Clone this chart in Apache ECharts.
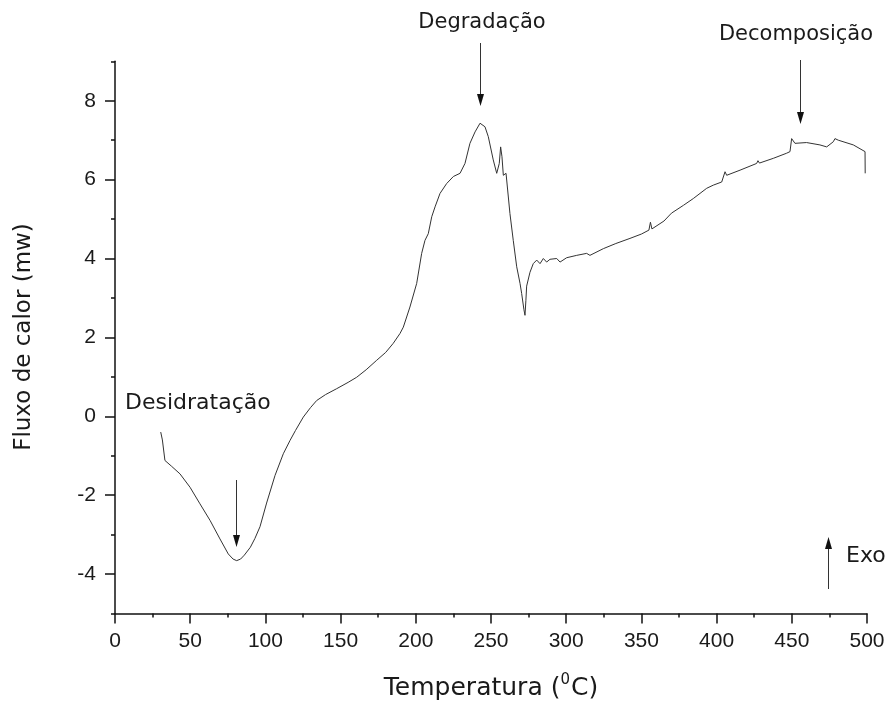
<!DOCTYPE html>
<html>
<head>
<meta charset="utf-8">
<script src="https://cdn.jsdelivr.net/npm/echarts@6/dist/echarts.min.js"></script>
<style>
html,body{margin:0;padding:0;background:#fff;}
#chart{width:893px;height:705px;}
</style>
</head>
<body>
<div id="chart"></div>
<script>
// Temperature (°C)
var temps = [30.4,31.5,33.2,37.7,43.2,49.9,56.5,63.2,69.8,75.3,78.5,80.9,83.5,86,90,93,96.4,100.8,106.4,111.9,116.4,120,125.2,130,134.1,140,147.4,155,160.7,167,174,180,185,189.5,191.7,196.1,200.6,203.9,206.1,208.3,210.6,212.8,216.1,220.5,225,229.4,232.7,236,239.4,242.7,246,248.2,251.5,253.8,255.5,256.4,257.3,258.2,260,262.6,264.8,267.1,269.3,270.4,271.9,272.6,273.2,273.7,275.9,278.1,280.4,282.6,284.8,287,289.2,293.7,295.9,300.3,307,313.6,315.8,324.7,333,342.4,350,355,356,357,365,370,378,384.5,393.4,397.8,403.4,405.6,406.7,415.6,426.6,427.5,428.5,437.7,446.6,448.8,449.9,452.1,459.8,468.7,473.2,477.6,478.7,480.9,490.9,498.7,498.8];
// Heat flow (mW)
var flux = [-0.40,-0.60,-1.12,-1.27,-1.46,-1.80,-2.22,-2.64,-3.11,-3.49,-3.62,-3.66,-3.62,-3.52,-3.32,-3.10,-2.80,-2.20,-1.50,-0.95,-0.61,-0.36,-0.02,0.22,0.40,0.55,0.70,0.86,0.99,1.18,1.42,1.62,1.85,2.10,2.26,2.77,3.37,4.13,4.46,4.63,5.06,5.31,5.65,5.90,6.08,6.16,6.41,6.92,7.21,7.43,7.34,7.09,6.50,6.16,6.41,6.83,6.58,6.11,6.16,5.14,4.46,3.79,3.37,3.11,2.70,2.56,2.94,3.30,3.65,3.87,3.96,3.87,4.00,3.91,3.98,4.00,3.91,4.02,4.08,4.13,4.08,4.25,4.38,4.51,4.62,4.72,4.92,4.75,4.95,5.15,5.35,5.52,5.78,5.86,5.94,6.20,6.11,6.24,6.41,6.48,6.42,6.54,6.67,6.71,7.04,6.92,6.94,6.88,6.83,6.96,7.04,7.00,6.88,6.71,6.16];
var yMajorTicks = [-4,-2,0,2,4,6,8];
var yMinorTicks = [-5,-3,-1,1,3,5,7,9];
var annotations = ['Desidratação','Degradação','Decomposição','Exo'];

var FONT = 'DejaVu Sans';
var TICKFONT = 'Liberation Sans';
var INK = '#1a1a1a';

var data = temps.map(function(t,i){ return [t, flux[i]]; });

var chart = echarts.init(document.getElementById('chart'), null, {renderer:'canvas'});

function arrow(x, y1, y2, up) {
  var head = 12, hw = 3.5;
  var tip = y2;
  var base = up ? tip + head : tip - head;
  return [
    {type:'line', shape:{x1:x, y1:y1, x2:x, y2:base}, style:{stroke:'#333', lineWidth:1}},
    {type:'polygon', shape:{points:[[x-hw, base],[x+hw, base],[x, tip]]}, style:{fill:'#111'}}
  ];
}

// x-axis title with superscript zero, built from pieces
var ctx = document.createElement('canvas').getContext('2d');
function tw(txt, size){ ctx.font = size + 'px "' + FONT + '"'; return ctx.measureText(txt).width; }
var tA = 'Temperatura (', tS = '0', tC = 'C)';
var mainSize = 25, supSize = 15;
var wA = tw(tA, mainSize), wS = tw(tS, supSize), wC = tw(tC, mainSize);
var x0 = 491 - (wA + wS + 1 + wC) / 2;

var graphics = [].concat(
  arrow(236.5, 480, 547, false),
  arrow(480.5, 43, 106, false),
  arrow(800.5, 60, 124, false),
  arrow(828.5, 589, 537, true),
  [
    {type:'text', left:125, top:392, style:{text:annotations[0], font:'22px "'+FONT+'"', fill:INK}},
    {type:'text', x:482, y:23, style:{text:annotations[1], font:'21px "'+FONT+'"', fill:INK, textAlign:'center', textVerticalAlign:'middle'}},
    {type:'text', x:796, y:35, style:{text:annotations[2], font:'21px "'+FONT+'"', fill:INK, textAlign:'center', textVerticalAlign:'middle'}},
    {type:'text', x:846, y:556, style:{text:annotations[3], font:'22px "'+FONT+'"', fill:INK, textAlign:'left', textVerticalAlign:'middle'}},
    {type:'text', x:24, y:337, rotation:Math.PI/2, style:{text:'Fluxo de calor (mw)', font:'23px "'+FONT+'"', fill:INK, textAlign:'center', textVerticalAlign:'middle'}},
    {type:'text', x:x0, y:688, style:{text:tA, font:mainSize+'px "'+FONT+'"', fill:INK, textAlign:'left', textVerticalAlign:'middle'}},
    {type:'text', x:x0 + wA, y:680, style:{text:tS, font:supSize+'px "'+FONT+'"', fill:INK, textAlign:'left', textVerticalAlign:'middle'}},
    {type:'text', x:x0 + wA + wS + 1, y:688, style:{text:tC, font:mainSize+'px "'+FONT+'"', fill:INK, textAlign:'left', textVerticalAlign:'middle'}}
  ]
);

var option = {
  backgroundColor:'#fff',
  animation:false,
  grid:{left:115, right:26, top:61.3, bottom:91.5, containLabel:false},
  xAxis:{
    type:'value', min:0, max:500, interval:50,
    axisLine:{show:true, onZero:false, lineStyle:{color:'#111', width:1.5}},
    axisTick:{show:true, length:10, inside:false, lineStyle:{color:'#111', width:1.5}},
    minorTick:{show:true, splitNumber:2, length:4, lineStyle:{color:'#111', width:1.5}},
    axisLabel:{fontFamily:TICKFONT, fontSize:21, color:INK, margin:17},
    splitLine:{show:false}, minorSplitLine:{show:false}
  },
  yAxis:[{
    type:'value', min:-5, max:9, interval:1,
    axisLine:{show:true, onZero:false, lineStyle:{color:'#111', width:1.5}},
    axisTick:{show:true, length:10, customValues:yMajorTicks, lineStyle:{color:'#111', width:1.5}},
    axisLabel:{fontFamily:TICKFONT, fontSize:21, color:INK, margin:19, customValues:yMajorTicks},
    splitLine:{show:false}
  },{
    type:'value', min:-5, max:9, interval:1, position:'left',
    axisLine:{show:false},
    axisTick:{show:true, length:4, customValues:yMinorTicks, lineStyle:{color:'#111', width:1.5}},
    axisLabel:{show:false},
    splitLine:{show:false}
  }],
  series:[{
    type:'line', data:data, yAxisIndex:0, showSymbol:false, symbol:'none',
    lineStyle:{color:'#333', width:1}, smooth:false, silent:true
  }],
  graphic:graphics
};
chart.setOption(option);
</script>
</body>
</html>
